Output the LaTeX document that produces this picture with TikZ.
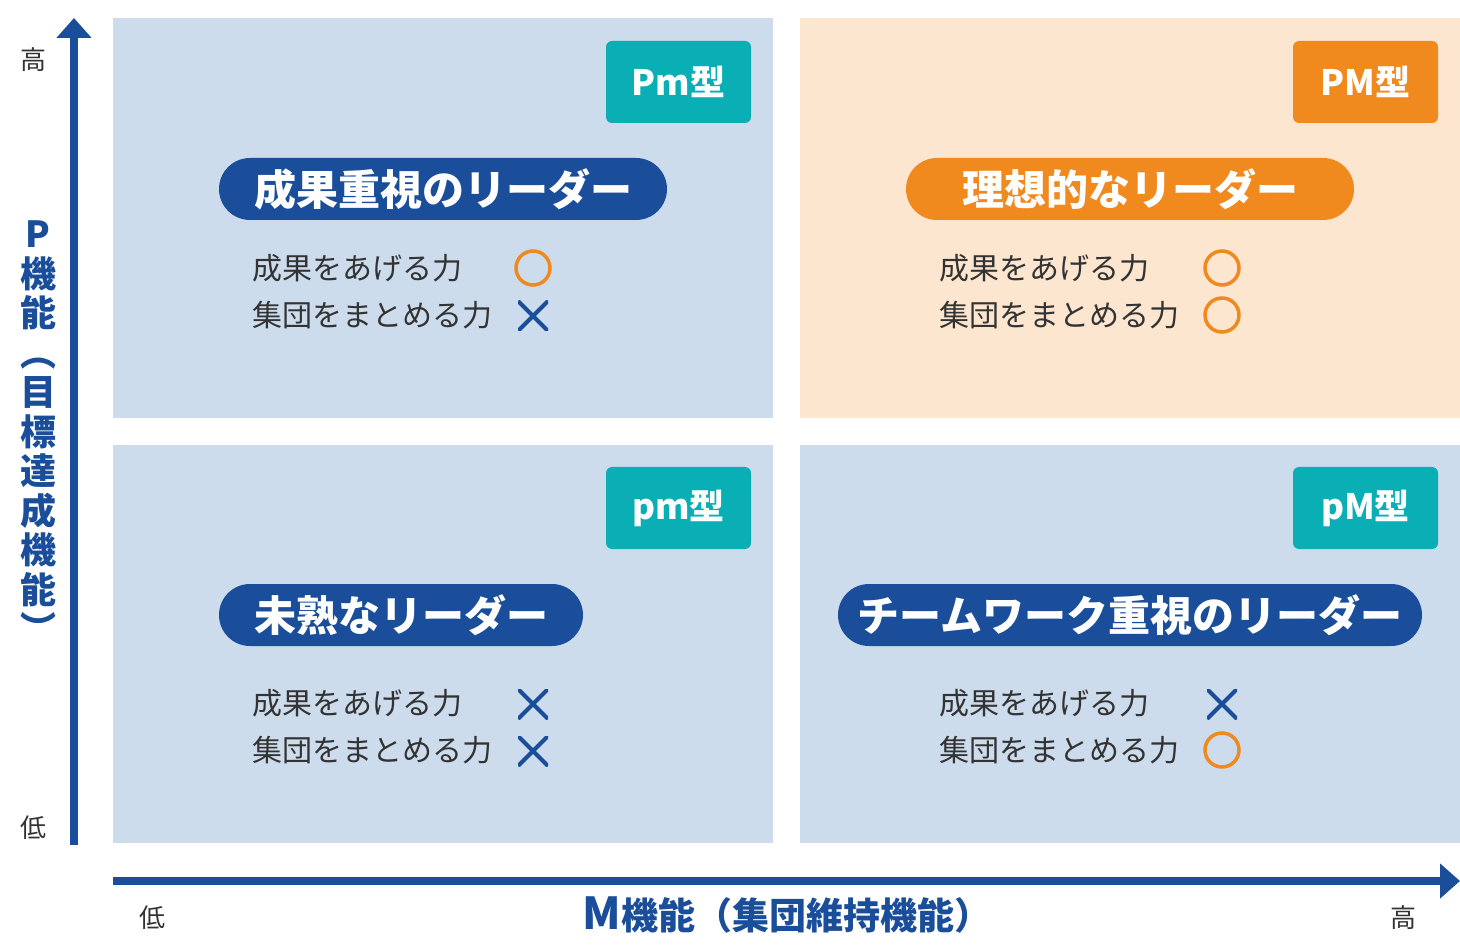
\documentclass[tikz,border=0pt]{standalone}
\usepackage{fontspec}
\setmainfont{Noto Sans CJK JP}
\usetikzlibrary{arrows.meta}
\definecolor{qblue}{HTML}{CCDCEC}
\definecolor{qorange}{HTML}{FCE6D0}
\definecolor{dblue}{HTML}{1A4E9A}
\definecolor{orng}{HTML}{F0891E}
\definecolor{teal2}{HTML}{0AAFB5}
\definecolor{txt}{HTML}{333333}
\tikzset{
 tag/.style={fill=teal2,rounded corners=6pt,minimum width=145pt,minimum height=82pt,text=white,font=\fontsize{35}{36}\selectfont\bfseries},
 pill/.style={rounded corners=31pt,minimum height=62pt,text=white,font=\fontsize{42}{44}\selectfont\bfseries,inner sep=0},
 item/.style={anchor=west,text=txt,font=\fontsize{30}{32}\selectfont,inner sep=0},
 yes/.style={draw=orng,line width=3.5pt,circle,minimum size=34pt,inner sep=0},
 no/.style={inner sep=0,minimum size=30pt,path picture={\draw[dblue,line width=4pt] (path picture bounding box.north west)--(path picture bounding box.south east) (path picture bounding box.south west)--(path picture bounding box.north east);}},
 axlab/.style={text=txt,font=\fontsize{26}{28}\selectfont},
}
\begin{document}
\begin{tikzpicture}[x=1pt,y=-1pt]
\useasboundingbox (0,0) rectangle (1460,949);
\fill[qblue] (113,18) rectangle (773,418);
\fill[qorange] (800,18) rectangle (1460,418);
\fill[qblue] (113,445) rectangle (773,843);
\fill[qblue] (800,445) rectangle (1460,843);
% tags
\node[tag] (t1) at (678.5,82) {Pm型};
\node[tag,fill=orng] (t2) at (1365.5,82) {PM型};
\node[tag] (t3) at (678.5,508) {pm型};
\node[tag] (t4) at (1365.5,508) {pM型};
% pills
\node[pill,fill=dblue,minimum width=448pt] (p1) at (443,189) {成果重視のリーダー};
\node[pill,fill=orng,minimum width=448pt] (p2) at (1130,189) {理想的なリーダー};
\node[pill,fill=dblue,minimum width=364pt] (p3) at (401,615) {未熟なリーダー};
\node[pill,fill=dblue,minimum width=584pt] (p4) at (1130,615) {チームワーク重視のリーダー};
% items
\node[item] (a1) at (252,268) {成果をあげる力};
\node[item] (b1) at (252,315) {集団をまとめる力};
\node[yes] (ma1) at (533,268) {};
\node[no] (mb1) at (533,316) {};
\node[item] (a2) at (939,268) {成果をあげる力};
\node[item] (b2) at (939,315) {集団をまとめる力};
\node[yes] (ma2) at (1222,268) {};
\node[yes] (mb2) at (1222,315) {};
\node[item] (a3) at (252,703) {成果をあげる力};
\node[item] (b3) at (252,750) {集団をまとめる力};
\node[no] (ma3) at (533,704) {};
\node[no] (mb3) at (533,751) {};
\node[item] (a4) at (939,703) {成果をあげる力};
\node[item] (b4) at (939,750) {集団をまとめる力};
\node[no] (ma4) at (1222,704) {};
\node[yes] (mb4) at (1222,750) {};
% axes
\coordinate (y0) at (74,845);
\coordinate (y1) at (74,18);
\draw[dblue,line width=8pt,-{Triangle[length=20pt,width=34pt]}] (y0)--(y1);
\coordinate (x0) at (113,881);
\coordinate (x1) at (1460,881);
\draw[dblue,line width=8pt,-{Triangle[length=20pt,width=34pt]}] (x0)--(x1);
\node[axlab] (yh) at (33,60) {高};
\node[axlab] (yl) at (33,828) {低};
\node[axlab] (xl) at (152,918) {低};
\node[axlab] (xh) at (1403,918) {高};
\node[text=dblue,font=\fontsize{36}{39.5}\selectfont\bfseries,align=center,inner sep=0] (yt) at (38,432)
 {P\\機\\能\\︵\\目\\標\\達\\成\\機\\能\\︶};
\node[text=dblue,font=\fontsize{37}{40}\selectfont\bfseries,inner sep=0] (xt) at (787,915)
 {{\fontsize{44}{44}\selectfont M}機能（集団維持機能）};
\end{tikzpicture}
\end{document}
